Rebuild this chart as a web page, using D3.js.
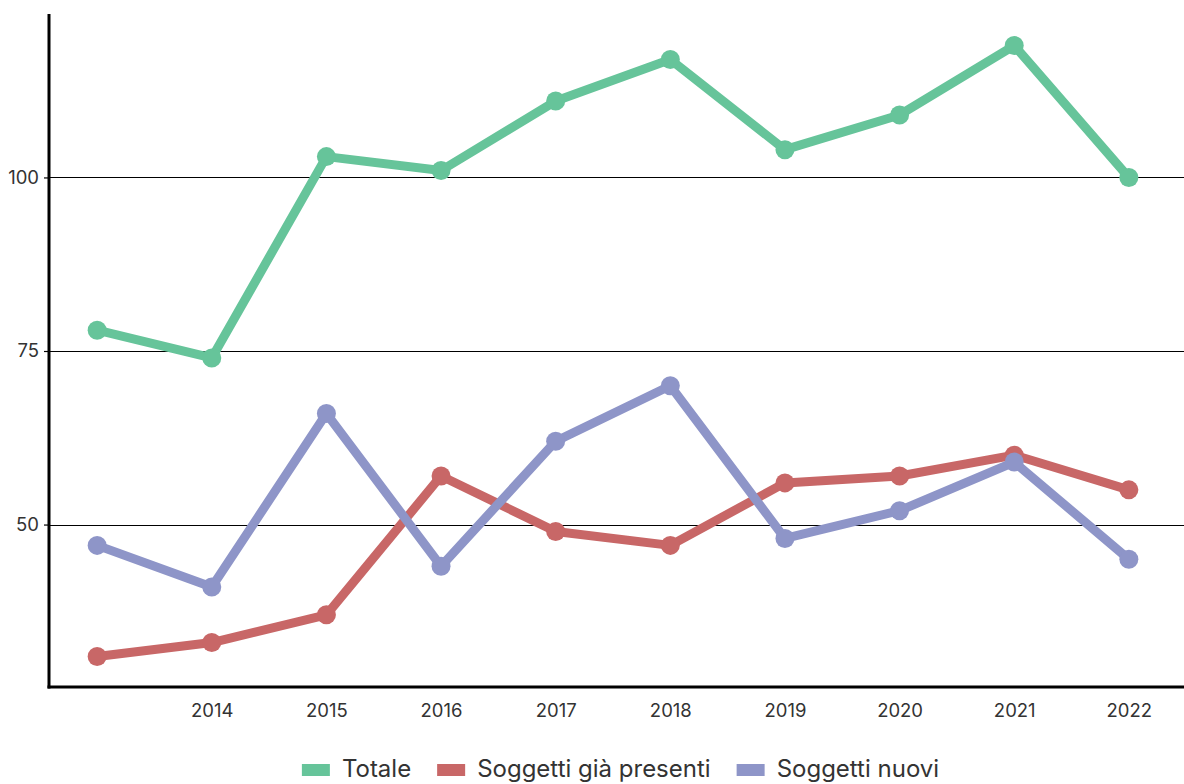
<!DOCTYPE html>
<html>
<head>
<meta charset="utf-8">
<script src="https://cdn.jsdelivr.net/npm/d3@7"></script>
<style>
  html, body { margin: 0; padding: 0; background: #fff; }
  svg { display: block; font-family: "Inter", "Noto Sans", sans-serif; }
</style>
</head>
<body>
<svg id="chart" width="1184" height="784"></svg>
<script>
// Anni di riferimento (il primo non ha etichetta sull'asse)
const years = ["2013", "2014", "2015", "2016", "2017", "2018", "2019", "2020", "2021", "2022"];
const yearLabels = ["", "2014", "2015", "2016", "2017", "2018", "2019", "2020", "2021", "2022"];

// Serie
const totale = [78, 74, 103, 101, 111, 117, 104, 109, 119, 100];
const giaPresenti = [31, 33, 37, 57, 49, 47, 56, 57, 60, 55];
const nuovi = [47, 41, 66, 44, 62, 70, 48, 52, 59, 45];

const seriesNames = ["Totale", "Soggetti già presenti", "Soggetti nuovi"];
const seriesColors = ["#66c49a", "#c86767", "#8e95c8"];
const yTicks = [50, 75, 100];

const series = [totale, giaPresenti, nuovi].map((values, i) => ({
  name: seriesNames[i],
  color: seriesColors[i],
  values: values.map((v, j) => ({ year: years[j], value: v }))
}));

const width = 1184;
const margin = { top: 15, right: 7, bottom: 97, left: 49 };
const height = 784;
const fontFamily = "Inter, 'Noto Sans', sans-serif";

const svg = d3.select("#chart");

const x = d3.scalePoint()
  .domain(years)
  .range([margin.left, width - margin.right])
  .padding(0.42);

const allValues = [...totale, ...giaPresenti, ...nuovi];
const vMin = d3.min(allValues), vMax = d3.max(allValues);
const pad = (vMax - vMin) * 0.05;
const y = d3.scaleLinear()
  .domain([vMin - pad, vMax + pad])
  .range([height - margin.bottom, margin.top]);

// Griglia orizzontale
svg.append("g")
  .selectAll("line")
  .data(yTicks)
  .join("line")
  .attr("x1", margin.left)
  .attr("x2", width)
  .attr("y1", d => Math.round(y(d)) + 0.5)
  .attr("y2", d => Math.round(y(d)) + 0.5)
  .attr("stroke", "#000")
  .attr("stroke-width", 1.2);

// Asse Y
const yAxis = svg.append("g")
  .attr("transform", `translate(${margin.left},0)`)
  .call(d3.axisLeft(y).tickValues(yTicks).tickSize(5).tickPadding(5));
yAxis.select(".domain").remove();
yAxis.selectAll(".tick line").attr("stroke", "#000").attr("stroke-width", 1.2);
yAxis.selectAll(".tick text")
  .attr("fill", "#333")
  .style("font-size", "18.5px")
  .style("font-family", fontFamily);

// Asse X
const xAxis = svg.append("g")
  .attr("transform", `translate(0,${height - margin.bottom})`)
  .call(d3.axisBottom(x).tickSize(0).tickPadding(17).tickFormat((d, i) => yearLabels[i]));
xAxis.select(".domain").remove();
xAxis.selectAll(".tick text")
  .attr("fill", "#333")
  .style("font-size", "18.5px")
  .style("font-family", fontFamily);

// Linee degli assi
svg.append("line")
  .attr("x1", margin.left).attr("x2", margin.left)
  .attr("y1", margin.top - 1).attr("y2", height - margin.bottom + 1.5)
  .attr("stroke", "#000").attr("stroke-width", 3);
svg.append("line")
  .attr("x1", margin.left - 1.5).attr("x2", width)
  .attr("y1", height - margin.bottom).attr("y2", height - margin.bottom)
  .attr("stroke", "#000").attr("stroke-width", 3);

// Linee e punti
const line = d3.line().x(d => x(d.year)).y(d => y(d.value));

const gSeries = svg.append("g")
  .selectAll("g")
  .data(series)
  .join("g");

gSeries.append("path")
  .attr("d", d => line(d.values))
  .attr("fill", "none")
  .attr("stroke", d => d.color)
  .attr("stroke-width", 9)
  .attr("stroke-linejoin", "round");

gSeries.selectAll("circle")
  .data(d => d.values.map(v => ({ ...v, color: d.color })))
  .join("circle")
  .attr("cx", d => x(d.year))
  .attr("cy", d => y(d.value))
  .attr("r", 9.5)
  .attr("fill", d => d.color);

// Legenda
const legend = svg.append("g")
  .style("font-family", fontFamily)
  .style("font-size", "24px");

const items = legend.selectAll("g")
  .data(series)
  .join("g");

items.append("rect")
  .attr("width", 28)
  .attr("height", 12)
  .attr("y", -13)
  .attr("fill", d => d.color);

items.append("text")
  .attr("x", 40)
  .attr("y", 0)
  .attr("fill", "#333")
  .text(d => d.name);

// Disposizione orizzontale, centrata sull'area del grafico
let offset = 0;
const gap = 26;
const widths = [];
items.each(function () { widths.push(this.getBBox().width); });
const total = d3.sum(widths) + gap * (widths.length - 1);
const start = (margin.left + width - total) / 2 + 4;
items.attr("transform", (d, i) => {
  const tx = start + offset;
  offset += widths[i] + gap;
  return `translate(${tx},777)`;
});
</script>
</body>
</html>
